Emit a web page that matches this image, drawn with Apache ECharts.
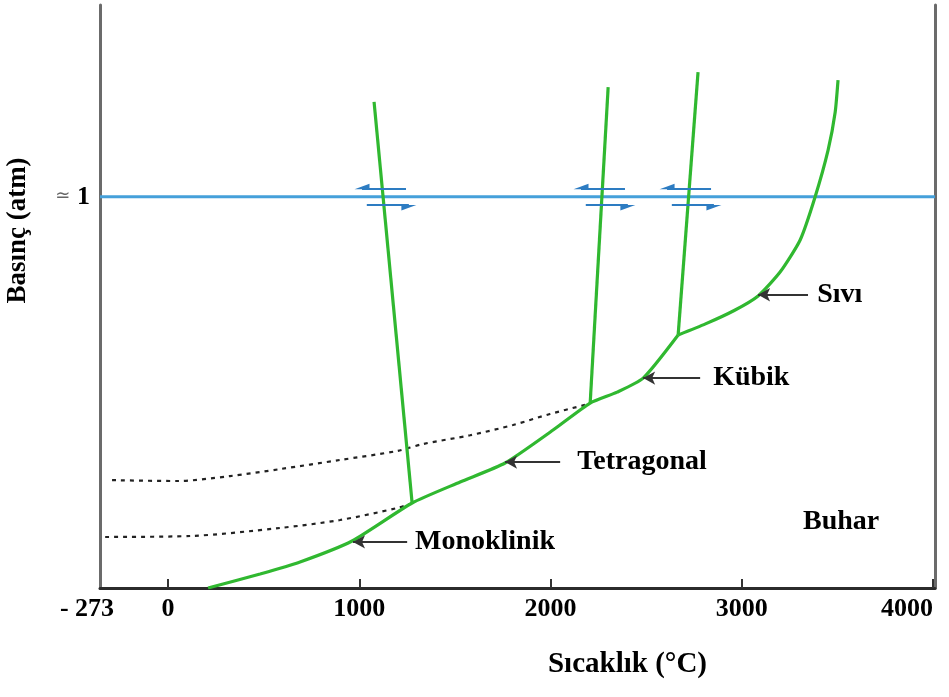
<!DOCTYPE html>
<html><head><meta charset="utf-8">
<script src="https://cdn.jsdelivr.net/npm/echarts@6/dist/echarts.min.js"></script>
<style>html,body{margin:0;padding:0;background:#fff}#c{width:949px;height:697px}</style>
</head><body><div id="c"></div>
<script>
// ---- axis / tick data ----
const X_MIN = -356, X_MAX = 4010;
const Y_MIN = 0, Y_MAX = 100;
const xTickValues = [0, 1000, 2000, 3000, 4000];
const xMinLabel = '- 273';
const oneAtm = 67.1;
const yTickLabel = '1';
const xAxisTitle = 'Sıcaklık (°C)';
const yAxisTitle = 'Basınç (atm)';

// ---- solid-vapour boundary (°C, relative pressure) ----
const solidVaporT = [209, 481, 690, 962, 1276, 1527, 1762, 2013, 2207, 2348, 2484, 2667];
const solidVaporP = [0, 2.4, 4.46, 8.06, 14.58, 18.18, 21.44, 27.1, 31.73, 33.6, 36.0, 43.4];
// ---- liquid-vapour boundary ----
const liquidVaporT = [2667, 2810, 2960, 3085, 3200, 3305, 3383, 3451, 3488, 3503];
const liquidVaporP = [43.4, 45.3, 47.6, 50.1, 54.2, 59.7, 67.07, 75.1, 81.6, 87.1];

// ---- solid-solid / solid-liquid boundaries ----
const monoTetraT = [1276, 1077];
const monoTetraP = [14.58, 83.4];
const tetraCubicT = [2207, 2301];
const tetraCubicP = [31.73, 85.9];
const cubicLiqT = [2667, 2771];
const cubicLiqP = [43.4, 88.5];

// ---- metastable (dashed) extensions ----
const metaUpperT = [-293, 47, 324, 586, 899, 1197, 1333, 1579, 1804, 1997, 2180];
const metaUpperP = [18.5, 18.35, 19.2, 20.4, 21.96, 23.5, 24.7, 26.2, 27.96, 29.85, 31.4];
const metaLowerT = [-329, 115, 586, 899, 1197, 1265];
const metaLowerP = [8.75, 8.92, 10.3, 11.66, 13.7, 14.4];

// ---- transition arrows at 1 atm ----
const crossT = [1124, 2269, 2719];
const upperArrowP = 68.4;
const lowerArrowP = 65.7;
const upperArrowFrom = [120, 120, 120];   // offsets from crossing (°C)
const upperArrowTo = [-110, -110, -110];
const lowerArrowFrom = [-85, -85, -85];
const lowerArrowTo = [135, 135, 135];

// ---- phase labels ----
const labelNames = ['Monoklinik', 'Tetragonal', 'Kübik', 'Sıvı', 'Buhar'];
const labelTextT = [1291, 2139, 2850, 3394, 3320];
const labelP = [7.9, 21.6, 36.0, 50.3, 11.3];
const labelArrowFromT = [1250, 2050, 2782, 3346];
const labelArrowToT = [967, 1762, 2484, 3085];

const zip = (a, b) => a.map((v, i) => [v, b[i]]);
const SERIF = '"Liberation Serif", "DejaVu Serif", serif';
const GREEN = '#30b830';
const BLUE = '#45a0da';
const harpoon = 'path://M0,0 L0,0 M5,0 L10,10 L5,10 Z';

const lineBase = {
  type: 'line', showSymbol: false, silent: true, animation: false,
  xAxisIndex: 0, yAxisIndex: 0
};

const blueArrowData = [];
crossT.forEach((c, i) => {
  blueArrowData.push([{ coord: [c + upperArrowFrom[i], upperArrowP] }, { coord: [c + upperArrowTo[i], upperArrowP] }]);
  blueArrowData.push([{ coord: [c + lowerArrowFrom[i], lowerArrowP] }, { coord: [c + lowerArrowTo[i], lowerArrowP] }]);
});

const labelArrowData = labelArrowFromT.map((f, i) => [
  { coord: [f, labelP[i]] }, { coord: [labelArrowToT[i], labelP[i]] }
]);

const option = {
  backgroundColor: '#fff',
  animation: false,
  grid: { left: 100, right: 14, top: 5, bottom: 109, containLabel: false, outerBoundsMode: 'none' },
  xAxis: {
    type: 'value', min: X_MIN, max: X_MAX,
    name: xAxisTitle, nameLocation: 'middle', nameGap: 62,
    nameTextStyle: { fontFamily: SERIF, fontWeight: 'bold', fontSize: 29, color: '#000', padding: [0, 0, 0, 220] },
    axisLine: { show: true, onZero: false, lineStyle: { color: '#2b2b2b', width: 3 } },
    axisTick: { show: true, inside: true, length: 9, customValues: xTickValues, lineStyle: { color: '#333', width: 2 } },
    splitLine: { show: false },
    axisLabel: {
      customValues: [X_MIN].concat(xTickValues),
      showMinLabel: true, showMaxLabel: true,
      alignMaxLabel: 'right',
      margin: 8,
      formatter: v => v === X_MIN ? '{m|' + xMinLabel + '}' : '{n|' + v + '}',
      rich: {
        m: { fontFamily: SERIF, fontWeight: 'bold', fontSize: 26, color: '#000', padding: [0, 26, 0, 0] },
        n: { fontFamily: SERIF, fontWeight: 'bold', fontSize: 26, color: '#000' }
      }
    }
  },
  yAxis: [{
    type: 'value', min: Y_MIN, max: Y_MAX,
    name: yAxisTitle, nameLocation: 'middle', nameRotate: 90, nameGap: 68,
    nameTextStyle: { fontFamily: SERIF, fontWeight: 'bold', fontSize: 27, color: '#000', padding: [0, 0, 0, 132] },
    axisLine: { show: true, onZero: false, lineStyle: { color: '#6b6b6b', width: 3 } },
    axisTick: { show: false },
    splitLine: { show: false },
    axisLabel: {
      customValues: [oneAtm],
      margin: 10,
      formatter: () => '{s|≃}  {b|' + yTickLabel + '}',
      rich: {
        s: { fontFamily: 'DejaVu Sans', fontSize: 18, color: '#666' },
        b: { fontFamily: SERIF, fontWeight: 'bold', fontSize: 26, color: '#000' }
      }
    }
  }, {
    type: 'value', min: Y_MIN, max: Y_MAX, position: 'right',
    axisLine: { show: true, onZero: false, lineStyle: { color: '#6b6b6b', width: 3 } },
    axisTick: { show: false }, axisLabel: { show: false }, splitLine: { show: false }
  }],
  series: [
    // 1 atm line
    Object.assign({}, lineBase, {
      data: [[X_MIN, oneAtm], [X_MAX, oneAtm]],
      lineStyle: { color: BLUE, width: 3 }, z: 2
    }),
    // metastable dashed
    Object.assign({}, lineBase, {
      data: zip(metaUpperT, metaUpperP), smooth: 0.3,
      lineStyle: { color: '#222', width: 2.2, type: [4, 5] }, z: 3
    }),
    Object.assign({}, lineBase, {
      data: zip(metaLowerT, metaLowerP), smooth: 0.3,
      lineStyle: { color: '#222', width: 2.2, type: [4, 5] }, z: 3
    }),
    // boundaries
    Object.assign({}, lineBase, {
      data: zip(solidVaporT, solidVaporP), smooth: 0.2,
      lineStyle: { color: GREEN, width: 3.2 }, z: 4
    }),
    Object.assign({}, lineBase, {
      data: zip(liquidVaporT, liquidVaporP), smooth: 0.2,
      lineStyle: { color: GREEN, width: 3.2 }, z: 4
    }),
    Object.assign({}, lineBase, {
      data: zip(monoTetraT, monoTetraP),
      lineStyle: { color: GREEN, width: 3.2 }, z: 4
    }),
    Object.assign({}, lineBase, {
      data: zip(tetraCubicT, tetraCubicP),
      lineStyle: { color: GREEN, width: 3.2 }, z: 4
    }),
    Object.assign({}, lineBase, {
      data: zip(cubicLiqT, cubicLiqP),
      lineStyle: { color: GREEN, width: 3.2 }, z: 4
    }),
    // transition arrows (blue harpoons)
    Object.assign({}, lineBase, {
      data: [], z: 5,
      markLine: {
        silent: true, animation: false,
        symbol: ['none', harpoon], symbolSize: [11, 15],
        label: { show: false },
        lineStyle: { color: '#2d7cc2', width: 2, type: 'solid' },
        emphasis: { disabled: true },
        data: blueArrowData
      }
    }),
    // phase labels with black pointer arrows
    {
      type: 'scatter', silent: true, animation: false, symbolSize: 0,
      itemStyle: { opacity: 1 },
      data: zip(labelTextT, labelP),
      label: {
        show: true, position: 'right', distance: 0,
        formatter: p => labelNames[p.dataIndex],
        fontFamily: SERIF, fontWeight: 'bold', fontSize: 28, color: '#000', opacity: 1
      },
      markLine: {
        silent: true, animation: false,
        symbol: ['none', 'arrow'], symbolSize: [10, 12],
        label: { show: false },
        lineStyle: { color: '#333', width: 2, type: 'solid', opacity: 1 },
        emphasis: { disabled: true },
        data: labelArrowData
      },
      z: 6
    }
  ]
};

const chart = echarts.init(document.getElementById('c'), null, { renderer: 'canvas' });
chart.setOption(option);
</script>
</body></html>
